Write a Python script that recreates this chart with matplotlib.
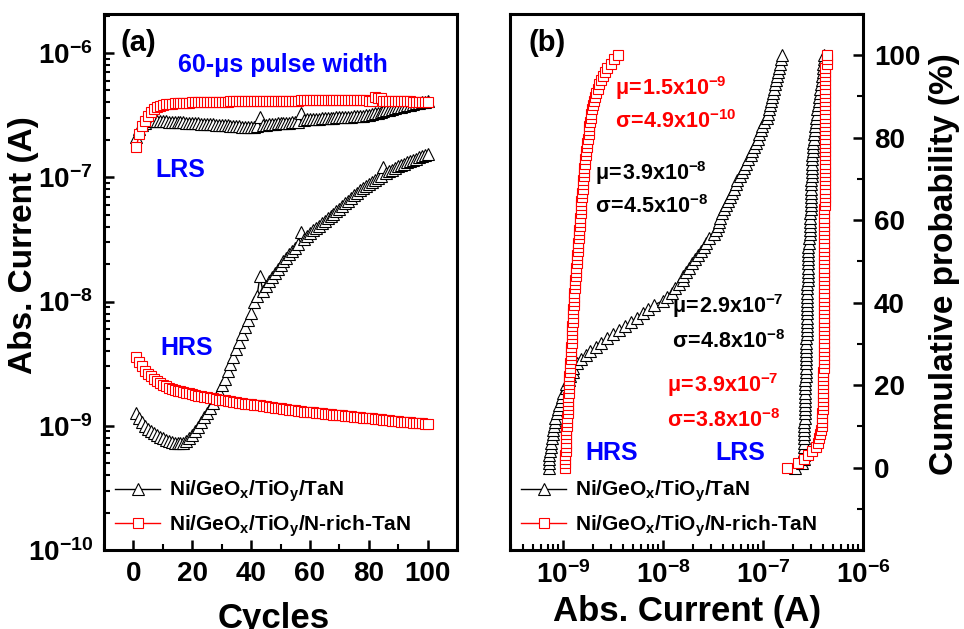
import numpy as np
import matplotlib
matplotlib.use("Agg")
import matplotlib.pyplot as plt
from matplotlib.ticker import MultipleLocator, LogLocator, NullFormatter

plt.rcParams['font.family'] = ['Liberation Sans', 'DejaVu Sans']
plt.rcParams['font.weight'] = 'bold'
plt.rcParams['mathtext.default'] = 'regular'

# ---------------- data ----------------
cycles = np.arange(1, 101)

# Ni/GeOx/TiOy/TaN, LRS current (A)
lrs_tan = np.array([
    2.10, 2.45, 2.62, 2.75, 2.82, 2.85, 2.86, 2.85, 2.84, 2.83,
    2.82, 2.81, 2.80, 2.79, 2.78, 2.77, 2.76, 2.75, 2.74, 2.73,
    2.72, 2.71, 2.70, 2.69, 2.68, 2.67, 2.66, 2.65, 2.64, 2.63,
    2.62, 2.61, 2.60, 2.59, 2.58, 2.57, 2.56, 2.56, 2.55, 2.55,
    2.56, 2.58, 3.05, 2.62, 2.64, 2.66, 2.68, 2.70, 2.71, 2.72,
    2.73, 2.74, 2.75, 2.76, 2.77, 2.78, 3.30, 2.90, 2.92, 2.94,
    2.95, 2.96, 2.97, 2.98, 2.99, 3.00, 3.01, 3.02, 3.03, 3.04,
    3.05, 3.06, 3.07, 3.08, 3.09, 3.10, 3.12, 3.14, 3.16, 3.19,
    3.22, 3.26, 3.30, 3.35, 3.40, 3.45, 3.50, 3.55, 3.60, 3.65,
    3.70, 3.75, 3.80, 3.85, 3.90, 3.94, 3.98, 4.02, 4.06, 4.10]) * 1e-7

# Ni/GeOx/TiOy/TaN, HRS current (A)
hrs_tan = np.array([
    1.26, 1.15, 1.07, 1.00, 0.95, 0.91, 0.87, 0.84, 0.81, 0.79,
    0.77, 0.75, 0.74, 0.73, 0.72, 0.72, 0.73, 0.75, 0.79, 0.84,
    0.90, 0.98, 1.07, 1.17, 1.27, 1.38, 1.52, 1.68, 1.88, 2.12,
    2.40, 2.75, 3.15, 3.60, 4.15, 4.75, 5.45, 6.25, 7.10, 8.10,
    9.9, 11.0, 15.9, 12.2, 13.3, 14.5, 15.7, 17.0, 18.3, 19.7,
    21.1, 22.6, 24.1, 25.7, 27.2, 28.8, 36.5, 32.1, 33.8, 35.5,
    37.3, 39.1, 40.9, 42.8, 44.7, 46.8, 48.8, 51.0, 53.2, 55.5,
    58.5, 61.5, 64.8, 68.0, 71.5, 75.0, 78.5, 82.0, 85.2, 88.4,
    91.7, 95.0, 98.4, 101.8, 121.0, 108.6, 112.0, 115.4, 118.8, 122.2,
    125.5, 128.8, 132.0, 135.2, 138.3, 141.4, 144.4, 147.4, 150.3, 153.2]) * 1e-9

# Ni/GeOx/TiOy/N-rich-TaN, LRS current (A)
lrs_nrich = np.array([
    1.75, 2.25, 2.60, 2.85, 3.10, 3.35, 3.52, 3.65, 3.75, 3.82,
    3.86, 3.89, 3.91, 3.93, 3.95, 3.96, 3.97, 3.98, 3.99, 4.00,
    4.01, 4.02, 4.02, 4.03, 4.04, 4.04, 4.05, 4.05, 4.06, 4.06,
    4.07, 4.07, 4.08, 4.08, 4.08, 4.09, 4.09, 4.09, 4.10, 4.10,
    4.10, 4.11, 4.11, 4.11, 4.12, 4.12, 4.12, 4.12, 4.13, 4.13,
    4.13, 4.13, 4.14, 4.14, 4.14, 4.14, 4.15, 4.15, 4.15, 4.15,
    4.15, 4.15, 4.16, 4.16, 4.16, 4.16, 4.16, 4.16, 4.16, 4.16,
    4.16, 4.16, 4.16, 4.16, 4.15, 4.15, 4.15, 4.15, 4.15, 4.14,
    4.14, 4.40, 4.38, 4.36, 4.13, 4.12, 4.12, 4.11, 4.11, 4.10,
    4.10, 4.09, 4.09, 4.08, 4.07, 4.06, 4.05, 4.04, 4.03, 4.02]) * 1e-7

# Ni/GeOx/TiOy/N-rich-TaN, HRS current (A)
hrs_nrich = np.array([
    3.55, 3.25, 3.00, 2.78, 2.62, 2.50, 2.40, 2.31, 2.22, 2.14,
    2.08, 2.03, 1.99, 1.95, 1.92, 1.89, 1.86, 1.84, 1.82, 1.80,
    1.77, 1.75, 1.73, 1.71, 1.69, 1.67, 1.66, 1.64, 1.62, 1.61,
    1.60, 1.58, 1.57, 1.56, 1.55, 1.53, 1.52, 1.51, 1.50, 1.49,
    1.48, 1.47, 1.46, 1.45, 1.43, 1.42, 1.41, 1.40, 1.39, 1.38,
    1.37, 1.36, 1.35, 1.34, 1.33, 1.32, 1.31, 1.30, 1.29, 1.29,
    1.28, 1.27, 1.26, 1.26, 1.25, 1.24, 1.24, 1.23, 1.22, 1.22,
    1.21, 1.20, 1.20, 1.19, 1.18, 1.18, 1.17, 1.16, 1.16, 1.15,
    1.15, 1.14, 1.13, 1.13, 1.12, 1.11, 1.11, 1.10, 1.09, 1.09,
    1.08, 1.08, 1.07, 1.07, 1.06, 1.06, 1.05, 1.05, 1.04, 1.04]) * 1e-9

label_tan = 'Ni/GeO$_\\mathdefault{x}$/TiO$_\\mathdefault{y}$/TaN'
label_nrich = 'Ni/GeO$_\\mathdefault{x}$/TiO$_\\mathdefault{y}$/N-rich-TaN'

stats_b = [  # text, colour
    (r'$\mathdefault{μ\!=\!1.5x10^{-9}}$', 'red'),
    (r'$\mathdefault{σ\!=\!4.9x10^{-10}}$', 'red'),
    (r'$\mathdefault{μ\!=\!3.9x10^{-8}}$', 'black'),
    (r'$\mathdefault{σ\!=\!4.5x10^{-8}}$', 'black'),
    (r'$\mathdefault{μ\!=\!2.9x10^{-7}}$', 'black'),
    (r'$\mathdefault{σ\!=\!4.8x10^{-8}}$', 'black'),
    (r'$\mathdefault{μ\!=\!3.9x10^{-7}}$', 'red'),
    (r'$\mathdefault{σ\!=\!3.8x10^{-8}}$', 'red'),
]
stats_pos = [(615, 95), (615, 128), (595, 180), (595, 213),
             (672, 313), (672, 348), (667, 392), (667, 427)]

# ---------------- figure ----------------
W, H = 964, 629
fig = plt.figure(figsize=(W / 100, H / 100), dpi=100)


def fx(x):
    return x / W


def fy(y):
    return 1 - y / H


axA = fig.add_axes([fx(104), fy(550), 353 / W, 536 / H])
axB = fig.add_axes([fx(510), fy(550), 353 / W, 536 / H])

tri = dict(marker='^', ms=9, mfc='white', mec='black', mew=0.8, color='black', lw=1.0)
sq = dict(marker='s', ms=7.5, mfc='white', mec='red', mew=0.8, color='red', lw=1.0)

# panel (a)
axA.plot(cycles, hrs_tan, **tri)
axA.plot(cycles, hrs_nrich, **sq)
axA.plot(cycles, lrs_tan, label=label_tan, **tri)
axA.plot(cycles, lrs_nrich, label=label_nrich, **sq)
axA.set_yscale('log')
axA.set_xlim(-10, 110)
axA.set_ylim(1e-10, 10 ** -5.686)
axA.xaxis.set_major_locator(MultipleLocator(20))
axA.xaxis.set_minor_locator(MultipleLocator(10))
axA.yaxis.set_major_locator(LogLocator(base=10, numticks=10))
axA.yaxis.set_minor_locator(LogLocator(base=10, subs=np.arange(2, 10), numticks=20))
axA.yaxis.set_minor_formatter(NullFormatter())

# panel (b): cumulative distributions built from the same data
prob = np.arange(100) / 99 * 100
axB.plot(np.sort(hrs_tan), prob, **tri)
axB.plot(np.sort(hrs_nrich), prob, **sq)
axB.plot(np.sort(lrs_tan), prob, label=label_tan, **tri)
axB.plot(np.sort(lrs_nrich), prob, label=label_nrich, **sq)
axB.set_xscale('log')
axB.set_xlim(10 ** -9.53, 1e-6)
axB.set_ylim(-20, 110)
axB.yaxis.tick_right()
axB.yaxis.set_major_locator(MultipleLocator(20))
axB.yaxis.set_minor_locator(MultipleLocator(10))
axB.set_yticks([0, 20, 40, 60, 80, 100])
axB.xaxis.set_major_locator(LogLocator(base=10, numticks=10))
axB.xaxis.set_minor_locator(LogLocator(base=10, subs=np.arange(2, 10), numticks=20))
axB.xaxis.set_minor_formatter(NullFormatter())

for ax in (axA, axB):
    for s in ax.spines.values():
        s.set_linewidth(2.2)
    ax.tick_params(which='both', direction='in', labelsize=20, pad=8)
    ax.tick_params(which='major', length=7, width=1.8)
    ax.tick_params(which='minor', length=4, width=1.5)
    for lab in ax.get_xticklabels() + ax.get_yticklabels():
        lab.set_fontweight('bold')
    leg = ax.legend(loc='upper left', bbox_to_anchor=(0.03, 0.133), frameon=False,
                    fontsize=15, handlelength=2.2, handletextpad=0.4,
                    labelspacing=0.45, borderaxespad=0, borderpad=0)

axA.tick_params(top=False, right=False)
axB.tick_params(top=False, left=False, right=True)

# texts
fig.text(fx(120), fy(51), '(a)', fontsize=21, fontweight='bold')
fig.text(fx(528), fy(51), '(b)', fontsize=21, fontweight='bold')
fig.text(fx(178), fy(72), '60-μs pulse width', fontsize=18, fontweight='bold', color='blue')
fig.text(fx(155), fy(177), 'LRS', fontsize=18, fontweight='bold', color='blue')
fig.text(fx(160), fy(355), 'HRS', fontsize=18, fontweight='bold', color='blue')
fig.text(fx(585), fy(460), 'HRS', fontsize=18, fontweight='bold', color='blue')
fig.text(fx(715), fy(460), 'LRS', fontsize=18, fontweight='bold', color='blue')
for (t, c), (x, y) in zip(stats_b, stats_pos):
    fig.text(fx(x), fy(y), t, fontsize=15.5, fontweight='bold', color=c)

fig.text(fx(274), fy(628), 'Cycles', fontsize=25, fontweight='bold', ha='center', va='baseline')
fig.text(fx(687), fy(621), 'Abs. Current (A)', fontsize=25, fontweight='bold', ha='center',
         va='baseline')
fig.text(fx(24), fy(245), 'Abs. Current (A)', fontsize=24, fontweight='bold', ha='center',
         va='center', rotation=90)
fig.text(fx(945), fy(264), 'Cumulative probability (%)', fontsize=24, fontweight='bold',
         ha='center', va='center', rotation=90)

fig.savefig('out.png', dpi=100)
